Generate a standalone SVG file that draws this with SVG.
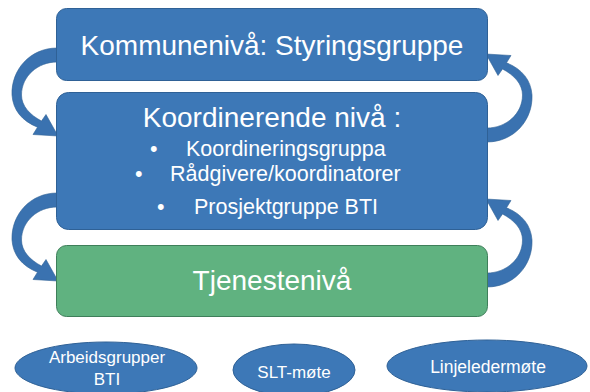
<svg xmlns="http://www.w3.org/2000/svg" xmlns:xlink="http://www.w3.org/1999/xlink" width="590" height="392" viewBox="0 0 590 392">
<style>
.box{fill:#3d78b7;stroke:#2f6196;stroke-width:1}
.green{fill:#60b280;stroke:#3f7f5a;stroke-width:1}
.ell{fill:#3d78b7;stroke:#2f6196;stroke-width:1}
.t{font-family:"Liberation Sans",Arial,sans-serif;fill:#ffffff;text-anchor:middle}
.b{font-family:"Liberation Sans",Arial,sans-serif;fill:#ffffff;font-size:21.5px}
.arr{fill:#3a72b0;stroke:#2f6196;stroke-width:0.6}
</style>
<defs>
<path id="carrow" class="arr" d="M62,48 L57,48 C30,48 11,70 12,95 C13,110 22,121 37.5,127.2 L33,134.5 L58,136 L46,114.5 L41.5,121 C30,115 21.5,106 21.5,95 C21.5,76 38,62 57,62 L62,62 Z"/>
</defs>
<rect width="590" height="392" fill="#ffffff"/>
<g id="connectors">
<use href="#carrow" xlink:href="#carrow"/>
<use href="#carrow" xlink:href="#carrow" transform="translate(0,145)"/>
<use href="#carrow" xlink:href="#carrow" transform="rotate(180 272 95)"/>
<use href="#carrow" xlink:href="#carrow" transform="translate(0,145) rotate(180 272 95)"/>
</g>
<g id="kommune">
<rect class="box" x="56.5" y="8.5" width="431" height="72" rx="10"/>
<text class="t" x="272" y="55" font-size="28">Kommunenivå: Styringsgruppe</text>
</g>
<g id="koordinerende">
<rect class="box" x="56.5" y="92.5" width="431" height="137" rx="12"/>
<text class="t" x="272" y="127" font-size="28">Koordinerende nivå :</text>
<text class="b" x="150" y="156">•</text>
<text class="b" x="186" y="156">Koordineringsgruppa</text>
<text class="b" x="135" y="181">•</text>
<text class="b" x="170" y="181">Rådgivere/koordinatorer</text>
<text class="b" x="157" y="214">•</text>
<text class="b" x="194" y="214">Prosjektgruppe BTI</text>
</g>
<g id="tjeneste">
<rect class="green" x="56.5" y="245.5" width="431" height="71" rx="10"/>
<text class="t" x="272" y="290" font-size="28">Tjenestenivå</text>
</g>
<g id="arbeidsgrupper">
<ellipse class="ell" cx="106" cy="368" rx="91" ry="26"/>
<text class="t" x="107" y="363" font-size="17">Arbeidsgrupper</text>
<text class="t" x="107" y="385" font-size="17">BTI</text>
</g>
<g id="slt">
<ellipse class="ell" cx="294" cy="370" rx="61" ry="26"/>
<text class="t" x="294" y="378" font-size="17">SLT-møte</text>
</g>
<g id="linjeleder">
<ellipse class="ell" cx="487" cy="366" rx="100" ry="26"/>
<text class="t" x="488" y="373" font-size="17.5">Linjeledermøte</text>
</g>
</svg>
